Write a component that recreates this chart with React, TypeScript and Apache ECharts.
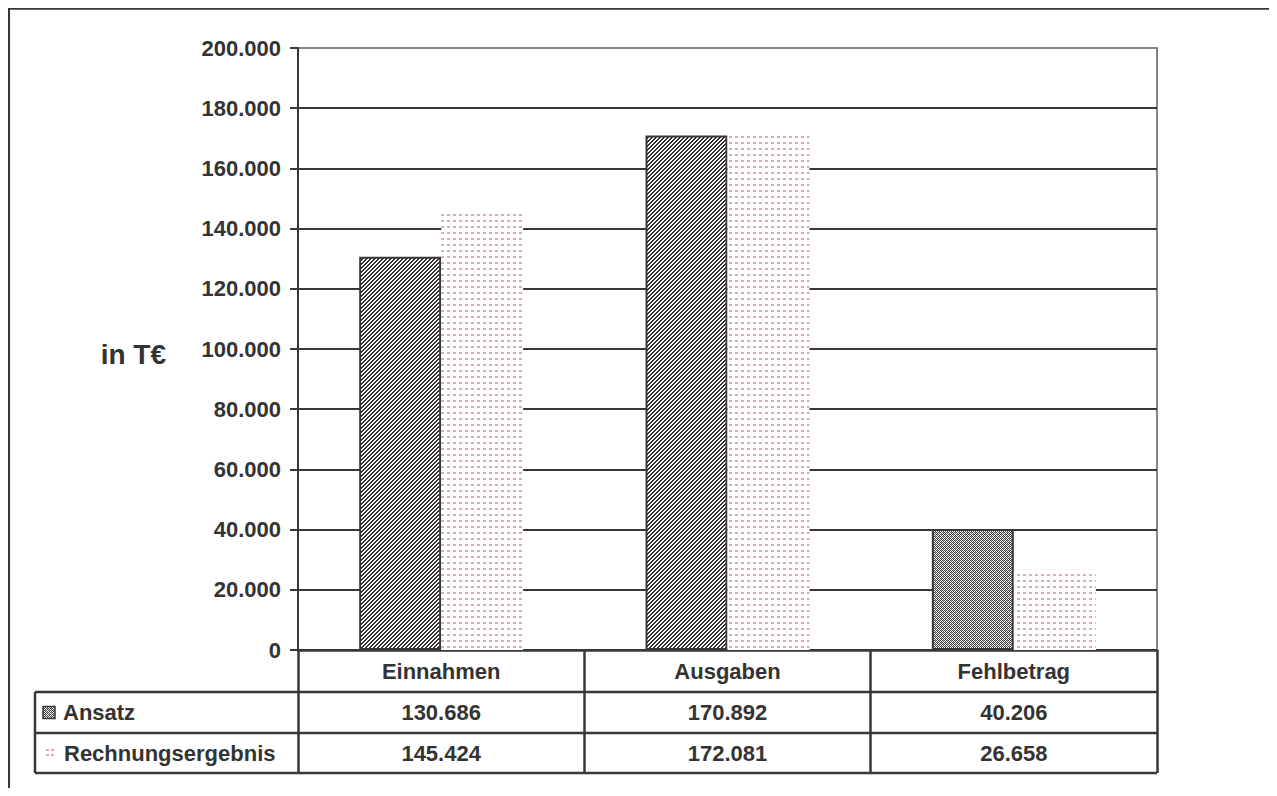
import React, { useEffect, useRef } from 'react';
import * as echarts from 'echarts';

const categories = ['Einnahmen', 'Ausgaben', 'Fehlbetrag'];
const seriesNames = ['Ansatz', 'Rechnungsergebnis'];
const ansatz = [130686, 170892, 40206];
const rechnungsergebnis = [145424, 172081, 26658];
const yMin = 0;
const yMax = 200000;
const yInterval = 20000;
const yAxisTitle = 'in T€';

const FONT = "'Liberation Sans', Arial, Helvetica, sans-serif";
const INK = '#333333';
const LINE = '#383838';
const FRAME = '#8c827e';

function fmt(n: number): string {
  return String(n).replace(/\B(?=(\d{3})+(?!\d))/g, '.');
}

function tile(w: number, h: number, draw: (ctx: CanvasRenderingContext2D) => void) {
  const c = document.createElement('canvas');
  c.width = w;
  c.height = h;
  const ctx = c.getContext('2d')!;
  draw(ctx);
  return { type: 'pattern', image: c.toDataURL(), imageWidth: w, imageHeight: h, repeat: 'repeat' } as any;
}

export default function App() {
  const ref = useRef<HTMLDivElement>(null);

  useEffect(() => {
    const el = ref.current!;
    const chart = echarts.init(el, null, { renderer: 'svg' });

    const hatch = tile(4, 4, (ctx) => {
      ctx.fillStyle = '#ffffff';
      ctx.fillRect(0, 0, 4, 4);
      ctx.fillStyle = '#2e2e2e';
      for (let y = 0; y < 4; y++)
        for (let x = 0; x < 4; x++) if ((x + y) % 4 < 2) ctx.fillRect(x, y, 1, 1);
    });
    const texture = tile(4, 4, (ctx) => {
      const rows = ['D.DL', '.D.D', 'DLD.', '.D.D'];
      ctx.fillStyle = '#ffffff';
      ctx.fillRect(0, 0, 4, 4);
      rows.forEach((r, y) =>
        r.split('').forEach((ch, x) => {
          if (ch === 'D') {
            ctx.fillStyle = '#444444';
            ctx.fillRect(x, y, 1, 1);
          } else if (ch === 'L') {
            ctx.fillStyle = '#a8a8a8';
            ctx.fillRect(x, y, 1, 1);
          }
        })
      );
    });
    const pink = tile(6, 6, (ctx) => {
      ctx.fillStyle = '#ffffff';
      ctx.fillRect(0, 0, 6, 6);
      ctx.fillStyle = '#dcaab9';
      ctx.fillRect(1, 2, 3, 2);
    });

    const nLines = Math.round((yMax - yMin) / yInterval) + 1;
    const splitColors = Array.from({ length: nLines }, (_, i) => (i === nLines - 1 ? FRAME : LINE));

    const gridLeft = 290;
    const gridTop = 40;
    const gridWidth = 859;
    const gridHeight = 602;
    const axisY = gridTop + gridHeight;
    const row1 = 684;
    const row2 = 725;
    const row3 = 765;
    const tableLeft = 27;
    const gridRight = gridLeft + gridWidth;

    const textStyle = { fontFamily: FONT, fontWeight: 'bold', fontSize: 22, color: INK };

    chart.setOption({
      animation: false,
      grid: {
        left: gridLeft,
        top: gridTop,
        width: gridWidth,
        height: gridHeight,
        show: true,
        borderColor: FRAME,
        borderWidth: 2,
        backgroundColor: 'transparent',
      },
      xAxis: {
        type: 'category',
        data: categories,
        axisLine: { show: true, lineStyle: { color: LINE, width: 2.5 } },
        axisTick: { show: true, length: row3 - axisY, lineStyle: { color: LINE, width: 2.5 } },
        axisLabel: { interval: 0, margin: 10, lineHeight: 22, ...textStyle },
        splitLine: { show: false },
      },
      yAxis: {
        type: 'value',
        min: yMin,
        max: yMax,
        interval: yInterval,
        axisLine: { show: true, lineStyle: { color: LINE, width: 2 } },
        axisTick: { show: true, length: 8, lineStyle: { color: LINE, width: 2 } },
        axisLabel: { margin: 17, formatter: (v: number) => fmt(v), ...textStyle },
        splitLine: { show: true, lineStyle: { color: splitColors, width: 2 } },
      },
      series: [
        {
          name: seriesNames[0],
          type: 'bar',
          barWidth: 82,
          barGap: '0%',
          data: ansatz.map((v, i) => ({
            value: v,
            itemStyle: { color: i === 2 ? texture : hatch },
          })),
          itemStyle: { borderColor: LINE, borderWidth: 2 },
        },
        {
          name: seriesNames[1],
          type: 'bar',
          barWidth: 82,
          barGap: '0%',
          data: rechnungsergebnis,
          itemStyle: { color: pink, borderWidth: 0 },
        },
      ],
    });

    const xs = categories.map((_, i) => chart.convertToPixel({ xAxisIndex: 0 }, i) as number);
    const rowMid1 = (row1 + row2) / 2;
    const rowMid2 = (row2 + row3) / 2;

    const lineEl = (x1: number, y1: number, x2: number, y2: number, w = 2.5) => ({
      type: 'line',
      shape: { x1, y1, x2, y2 },
      style: { stroke: LINE, lineWidth: w },
      z: 10,
    });

    const valueText = (x: number, y: number, t: string) => ({
      type: 'text',
      x,
      y,
      style: {
        text: t,
        font: `bold 22px ${FONT}`,
        fill: INK,
        align: 'center',
        verticalAlign: 'middle',
      },
      z: 11,
    });

    const elements: any[] = [
      {
        type: 'polyline',
        shape: { points: [[0.8, 800], [0.8, 0.5], [1267, 0.5], [1267, 800]] },
        style: { stroke: LINE, lineWidth: 2.5, fill: null },
        z: 10,
      },
      lineEl(tableLeft, row1, gridRight, row1),
      lineEl(tableLeft, row2, gridRight, row2),
      lineEl(tableLeft, row3, gridRight, row3),
      lineEl(tableLeft, row1, tableLeft, row3),
      {
        type: 'text',
        x: 158,
        y: 346,
        style: {
          text: yAxisTitle,
          font: `bold 28px ${FONT}`,
          fill: INK,
          align: 'right',
          verticalAlign: 'middle',
        },
        z: 11,
      },
      {
        type: 'rect',
        shape: { x: 35, y: rowMid1 - 6, width: 12, height: 12 },
        style: { fill: texture, stroke: LINE, lineWidth: 1.5 },
        z: 11,
      },
      ...[0, 1].flatMap((r) =>
        [0, 1].map((c) => ({
          type: 'rect',
          shape: { x: 38 + c * 5, y: rowMid2 - 4 + r * 5, width: 3, height: 2 },
          style: { fill: '#dcaab9' },
          z: 11,
        }))
      ),
      {
        type: 'text',
        x: 55,
        y: rowMid1,
        style: { text: seriesNames[0], font: `bold 22px ${FONT}`, fill: INK, align: 'left', verticalAlign: 'middle' },
        z: 11,
      },
      {
        type: 'text',
        x: 56,
        y: rowMid2,
        style: { text: seriesNames[1], font: `bold 22px ${FONT}`, fill: INK, align: 'left', verticalAlign: 'middle' },
        z: 11,
      },
      ...xs.map((x, i) => valueText(x, rowMid1, fmt(ansatz[i]))),
      ...xs.map((x, i) => valueText(x, rowMid2, fmt(rechnungsergebnis[i]))),
    ];

    chart.setOption({ graphic: { elements } });

    return () => chart.dispose();
  }, []);

  return <div ref={ref} style={{ width: 1269, height: 788, marginBottom: -8 }} />;
}
